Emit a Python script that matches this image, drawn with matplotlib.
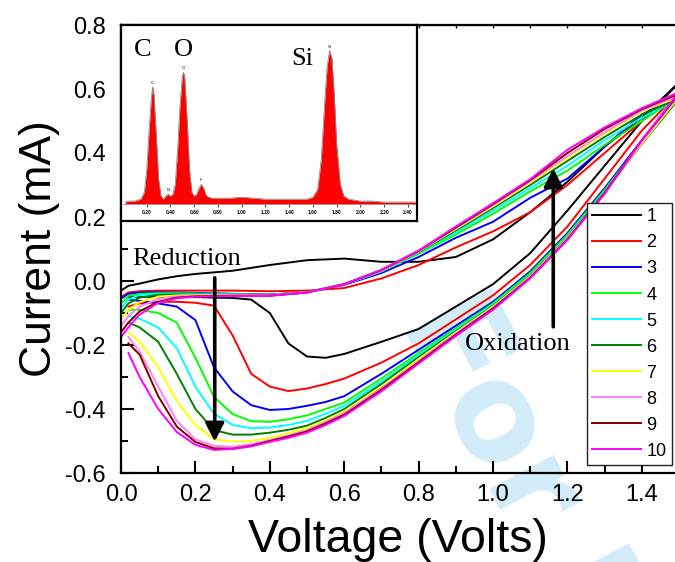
import numpy as np
import matplotlib.pyplot as plt
from matplotlib.ticker import MultipleLocator

plt.rcParams['font.family'] = ['Liberation Sans', 'DejaVu Sans']
plt.rcParams['axes.unicode_minus'] = False

# ---- cyclic voltammetry data ----
# forward sweep 0 -> 1.5 V
v_fwd = [0.0, 0.02, 0.05, 0.1, 0.15, 0.2, 0.3, 0.4, 0.5, 0.6, 0.7, 0.8, 0.9, 1.0, 1.1, 1.2, 1.3, 1.4, 1.5]
# reverse sweep 1.5 -> 0 V
v_rev = [1.5, 1.4, 1.3, 1.2, 1.1, 1.0, 0.9, 0.8, 0.7, 0.6, 0.55, 0.5, 0.45, 0.4, 0.35, 0.3, 0.25, 0.2, 0.15, 0.1, 0.05, 0.02]

i_fwd = {
    1: [-0.03, -0.015, -0.008, 0.005, 0.015, 0.022, 0.032, 0.05, 0.065, 0.07, 0.06, 0.06, 0.075, 0.13, 0.215, 0.31, 0.42, 0.51, 0.62],
    2: [-0.05, -0.036, -0.032, -0.03, -0.03, -0.03, -0.03, -0.032, -0.03, -0.022, 0.008, 0.05, 0.105, 0.155, 0.215, 0.30, 0.40, 0.50, 0.59],
    3: [-0.055, -0.04, -0.036, -0.035, -0.036, -0.037, -0.04, -0.042, -0.035, -0.012, 0.025, 0.075, 0.135, 0.185, 0.26, 0.32, 0.42, 0.52, 0.58],
    4: [-0.07, -0.047, -0.04, -0.038, -0.038, -0.039, -0.041, -0.043, -0.035, -0.01, 0.03, 0.085, 0.145, 0.21, 0.28, 0.345, 0.425, 0.50, 0.575],
    5: [-0.085, -0.057, -0.044, -0.04, -0.04, -0.04, -0.042, -0.044, -0.035, -0.01, 0.03, 0.088, 0.152, 0.22, 0.29, 0.36, 0.44, 0.51, 0.572],
    6: [-0.10, -0.07, -0.052, -0.043, -0.042, -0.042, -0.043, -0.045, -0.036, -0.01, 0.032, 0.09, 0.158, 0.228, 0.30, 0.375, 0.45, 0.52, 0.57],
    7: [-0.12, -0.09, -0.066, -0.049, -0.045, -0.044, -0.044, -0.045, -0.036, -0.01, 0.032, 0.092, 0.162, 0.233, 0.307, 0.385, 0.46, 0.53, 0.575],
    8: [-0.14, -0.11, -0.08, -0.056, -0.048, -0.046, -0.045, -0.045, -0.036, -0.01, 0.033, 0.093, 0.165, 0.237, 0.312, 0.39, 0.465, 0.533, 0.58],
    9: [-0.16, -0.13, -0.095, -0.065, -0.052, -0.048, -0.046, -0.046, -0.036, -0.01, 0.034, 0.094, 0.167, 0.24, 0.315, 0.40, 0.475, 0.537, 0.585],
    10: [-0.175, -0.145, -0.105, -0.068, -0.054, -0.049, -0.047, -0.046, -0.036, -0.01, 0.035, 0.095, 0.17, 0.243, 0.318, 0.41, 0.48, 0.54, 0.59],
}

i_rev = {
    1: [0.62, 0.50, 0.36, 0.22, 0.087, -0.01, -0.08, -0.15, -0.19, -0.228, -0.24, -0.236, -0.195, -0.10, -0.058, -0.053, -0.052, -0.05, -0.05, -0.049, -0.05, -0.05],
    2: [0.59, 0.47, 0.32, 0.17, 0.05, -0.045, -0.12, -0.195, -0.255, -0.305, -0.322, -0.336, -0.344, -0.33, -0.29, -0.17, -0.077, -0.068, -0.065, -0.065, -0.07, -0.08],
    3: [0.58, 0.44, 0.29, 0.15, 0.03, -0.065, -0.14, -0.215, -0.29, -0.36, -0.378, -0.39, -0.40, -0.403, -0.388, -0.345, -0.27, -0.122, -0.08, -0.07, -0.062, -0.058],
    4: [0.575, 0.435, 0.285, 0.145, 0.025, -0.07, -0.148, -0.225, -0.305, -0.38, -0.40, -0.42, -0.432, -0.44, -0.438, -0.416, -0.362, -0.24, -0.13, -0.10, -0.09, -0.09],
    5: [0.572, 0.43, 0.28, 0.14, 0.02, -0.075, -0.153, -0.232, -0.315, -0.39, -0.415, -0.437, -0.45, -0.458, -0.46, -0.45, -0.415, -0.33, -0.21, -0.145, -0.118, -0.11],
    6: [0.57, 0.428, 0.277, 0.137, 0.017, -0.078, -0.157, -0.238, -0.322, -0.40, -0.428, -0.452, -0.465, -0.474, -0.48, -0.48, -0.466, -0.40, -0.29, -0.19, -0.145, -0.13],
    7: [0.575, 0.43, 0.275, 0.135, 0.015, -0.08, -0.16, -0.244, -0.33, -0.408, -0.435, -0.46, -0.476, -0.49, -0.50, -0.502, -0.495, -0.45, -0.375, -0.27, -0.19, -0.16],
    8: [0.58, 0.435, 0.275, 0.132, 0.012, -0.083, -0.163, -0.25, -0.335, -0.413, -0.44, -0.466, -0.482, -0.497, -0.51, -0.518, -0.515, -0.495, -0.437, -0.33, -0.22, -0.175],
    9: [0.585, 0.44, 0.275, 0.13, 0.01, -0.086, -0.168, -0.254, -0.34, -0.418, -0.445, -0.47, -0.486, -0.50, -0.515, -0.524, -0.523, -0.503, -0.455, -0.36, -0.23, -0.195],
    10: [0.59, 0.44, 0.272, 0.128, 0.008, -0.09, -0.172, -0.258, -0.345, -0.422, -0.45, -0.474, -0.49, -0.503, -0.517, -0.525, -0.528, -0.512, -0.472, -0.40, -0.30, -0.225],
}

cycle_colors = ['#000000', '#ff0000', '#0000ff', '#00ff00', '#00ffff',
                '#008000', '#ffff00', '#ff80ff', '#800000', '#ff00ff']

# ---- EDX spectrum for the inset (energy in keV, counts) ----
edx_energy = [0.02, 0.05, 0.10, 0.15, 0.18, 0.20, 0.22, 0.24, 0.25, 0.26, 0.28, 0.30, 0.32,
              0.34, 0.36, 0.38, 0.40, 0.42, 0.44, 0.46, 0.48, 0.50, 0.51, 0.52, 0.54, 0.56,
              0.58, 0.60, 0.62, 0.64, 0.66, 0.68, 0.70, 0.72, 0.75, 0.80, 0.90, 1.00, 1.10,
              1.20, 1.30, 1.40, 1.50, 1.55, 1.60, 1.64, 1.67, 1.70, 1.72, 1.74, 1.76, 1.78,
              1.80, 1.83, 1.86, 1.90, 1.95, 2.00, 2.10, 2.20, 2.30, 2.40, 2.48]
edx_counts = [2, 3, 3, 5, 12, 35, 75, 110, 119, 112, 70, 25, 8,
              5, 8, 10, 8, 10, 20, 55, 100, 130, 134, 128, 85, 35,
              12, 8, 10, 16, 20, 16, 9, 7, 6, 6, 6, 7, 6,
              5, 5, 5, 5, 5, 7, 15, 45, 105, 140, 156, 148, 110,
              60, 20, 8, 5, 4, 3, 3, 2, 2, 2, 2]
edx_ticks = [0.2, 0.4, 0.6, 0.8, 1.0, 1.2, 1.4, 1.6, 1.8, 2.0, 2.2, 2.4]

W, H = 675, 562
fig = plt.figure(figsize=(W / 100, H / 100), dpi=100)
fig.patch.set_facecolor('white')

# journal watermark behind everything (cut by the page edge, as in the original)
fig.text(400 / W, 1 - 322 / H, 'For P', rotation=-62, rotation_mode='anchor',
         ha='left', va='baseline', fontsize=96, fontweight='bold', color='#d2ecfa',
         family='DejaVu Sans', zorder=-5)

ax = fig.add_axes([121 / W, 1 - 473 / H, 558 / W, 448 / H])
ax.patch.set_facecolor('none')

lines = []
for k in range(1, 11):
    vv = v_fwd + v_rev
    ii = i_fwd[k] + i_rev[k]
    ln, = ax.plot(vv, ii, color=cycle_colors[k - 1], lw=1.4, label=str(k))
    lines.append(ln)

ax.set_xlim(0, 1.5)
ax.set_ylim(-0.6, 0.8)
ax.xaxis.set_major_locator(MultipleLocator(0.2))
ax.xaxis.set_minor_locator(MultipleLocator(0.1))
ax.yaxis.set_major_locator(MultipleLocator(0.2))
ax.yaxis.set_minor_locator(MultipleLocator(0.1))
ax.xaxis.set_major_formatter(plt.FormatStrFormatter('%.1f'))
ax.yaxis.set_major_formatter(plt.FormatStrFormatter('%.1f'))
ax.tick_params(which='both', direction='in', top=False, right=False, width=1.5)
ax.tick_params(which='major', length=9, labelsize=17)
ax.tick_params(which='minor', length=5)
ax.tick_params(axis='x', pad=8)
ax.tick_params(axis='y', pad=11)
for s in ax.spines.values():
    s.set_linewidth(1.6)

top = ax.secondary_xaxis('top')
top.xaxis.set_major_locator(MultipleLocator(0.1))
top.tick_params(direction='in', length=2.5, width=1.0, labeltop=False)

ax.set_xlabel('Voltage (Volts)', fontsize=33.5)
ax.xaxis.set_label_coords(0.496, -0.100)
ax.set_ylabel('Current (mA)', fontsize=32)
ax.yaxis.set_label_coords(-0.11, 0.5)

# arrows and annotations
ax.annotate('', xy=(0.252, -0.502), xytext=(0.252, 0.01),
            arrowprops=dict(arrowstyle='-|>,head_length=0.55,head_width=0.28',
                            mutation_scale=20, lw=2.6, color='black',
                            shrinkA=0, shrinkB=0))
ax.annotate('', xy=(1.162, 0.352), xytext=(1.162, -0.143),
            arrowprops=dict(arrowstyle='-|>,head_length=0.55,head_width=0.28',
                            mutation_scale=20, lw=2.6, color='black',
                            shrinkA=0, shrinkB=0))
ax.text(0.031, 0.05, 'Reduction', family='Liberation Serif', fontsize=19,
        ha='left', va='baseline')
ax.text(1.066, -0.216, 'Oxidation', family='Liberation Serif', fontsize=19,
        ha='center', va='baseline')

leg = ax.legend(handles=lines, loc='upper left', bbox_to_anchor=(587 / W, 1 - 203 / H),
                bbox_transform=fig.transFigure, fontsize=13, frameon=True, fancybox=False,
                edgecolor='#222222', framealpha=1, borderpad=0.3, borderaxespad=0,
                handlelength=2.7, handletextpad=0.3, labelspacing=0.5)
leg.get_frame().set_linewidth(1.0)

# ---- inset EDX spectrum ----
box = fig.add_axes([121 / W, 1 - 221 / H, 296 / W, 196 / H])
box.set_xticks([])
box.set_yticks([])
for s in box.spines.values():
    s.set_linewidth(1.6)
box.set_zorder(5)

ins = fig.add_axes([123 / W, 1 - 207 / H, 292 / W, 182 / H])
ins.set_zorder(6)
ins.patch.set_facecolor('none')
ins.fill_between(edx_energy, 0, edx_counts, color='#ff0000', lw=0)
ins.plot(edx_energy, edx_counts, color='#888888', lw=0.6)
ins.axhline(0, color='#999999', lw=0.6)
ins.set_xlim(0, 2.46)
ins.set_ylim(-3, 182)
for s in ins.spines.values():
    s.set_visible(False)
ins.set_yticks([])
ins.set_xticks(edx_ticks)
ins.set_xticklabels(['%.2f' % t for t in edx_ticks], fontsize=3.5, fontweight='bold')
ins.tick_params(axis='x', direction='in', length=2, width=0.5, pad=2)

for name, e, c in [('C', 0.25, 121), ('O', 0.51, 136), ('N', 0.38, 12), ('F', 0.66, 22), ('Si', 1.74, 158)]:
    ins.text(e, c, name, fontsize=3, ha='center', va='bottom')

for name, e, c in [('C', 0.17, 150), ('O', 0.506, 150), ('Si', 1.51, 141)]:
    ins.text(e, c, name, family='Liberation Serif', fontsize=19, ha='center', va='baseline')

fig.savefig('out.png', dpi=100)
